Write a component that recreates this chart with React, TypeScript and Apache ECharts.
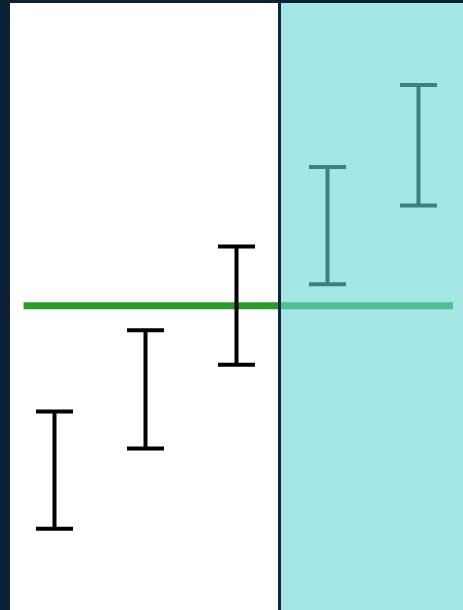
import React, { useEffect, useRef } from "react";
import * as echarts from "echarts";

// Data
const groups = [1, 2, 3, 4, 5];
const lowValues = [-2.72, -1.74, -0.72, 0.26, 1.22];
const highValues = [-1.29, -0.3, 0.72, 1.69, 2.69];
const refLineX = [0.66, 5.38];
const refLineY = [0, 0];
const shadeStart = 3.484;
const dividerX = 3.467;

export default function App() {
  const ref = useRef<HTMLDivElement>(null);
  useEffect(() => {
    if (!ref.current) return;
    const chart = echarts.init(ref.current, null, { renderer: "svg" });
    const xMin = 0.511;
    const xMax = 5.489;
    chart.setOption({
      animation: false,
      backgroundColor: "#0b2236",
      grid: {
        left: 10,
        right: 0,
        top: 3,
        bottom: 0,
        show: true,
        backgroundColor: "#ffffff",
        borderWidth: 0,
      },
      xAxis: {
        type: "value",
        min: xMin,
        max: xMax,
        show: false,
        splitLine: { show: false },
      },
      yAxis: {
        type: "value",
        min: -3.71,
        max: 3.69,
        show: false,
        splitLine: { show: false },
      },
      series: [
        {
          type: "line",
          z: 3,
          data: refLineX.map((x, i) => [x, refLineY[i]]),
          symbol: "none",
          lineStyle: { color: "#2e9a2e", width: 7 },
        },
        {
          type: "custom",
          z: 4,
          data: groups.map((g, i) => [g, lowValues[i], highValues[i]]),
          renderItem: (params: any, api: any) => {
            const x = api.value(0);
            const lo = api.coord([x, api.value(1)]);
            const hi = api.coord([x, api.value(2)]);
            const half = 18.5;
            const style = { stroke: "#000000", lineWidth: 4 };
            return {
              type: "group",
              children: [
                { type: "line", shape: { x1: lo[0], y1: lo[1], x2: hi[0], y2: hi[1] }, style },
                { type: "line", shape: { x1: hi[0] - half, y1: hi[1], x2: hi[0] + half, y2: hi[1] }, style },
                { type: "line", shape: { x1: lo[0] - half, y1: lo[1], x2: lo[0] + half, y2: lo[1] }, style },
              ],
            };
          },
        },
        {
          type: "scatter",
          z: 10,
          data: [],
          silent: true,
          markArea: {
            z: 20,
            silent: true,
            itemStyle: { color: "rgba(103,213,213,0.6)" },
            data: [[{ xAxis: shadeStart }, { xAxis: xMax }]],
          },
          markLine: {
            z: 21,
            silent: true,
            symbol: ["none", "none"],
            label: { show: false },
            lineStyle: { color: "#0e2539", width: 3, type: "solid" },
            data: [{ xAxis: dividerX }],
          },
        },
      ],
    });
    return () => chart.dispose();
  }, []);
  return (
    <div
      ref={ref}
      style={{ position: "fixed", left: 0, top: 0, width: 463, height: 610 }}
    />
  );
}
